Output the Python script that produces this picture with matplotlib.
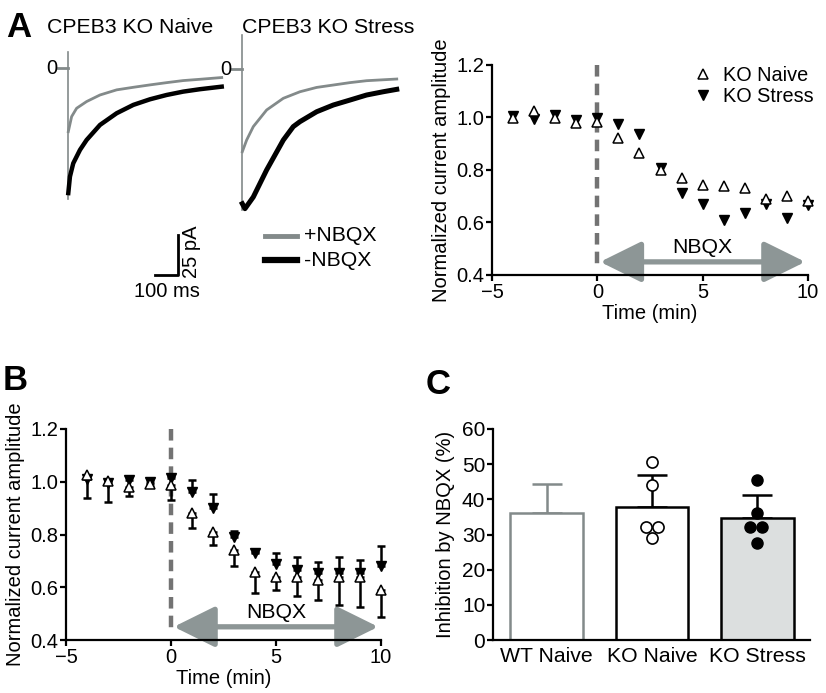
import matplotlib
matplotlib.use('Agg')
import matplotlib.pyplot as plt
from matplotlib.lines import Line2D
from matplotlib.patches import FancyArrowPatch

plt.rcParams['font.family'] = ['Liberation Sans', 'DejaVu Sans']

W, H = 826, 693

# ---- panel A traces (ms, pA) ----
naive_t_gray = [0, 14.5, 36.2, 79.7, 137.9, 210.3, 282.6, 355, 427.3, 499.6, 572, 667]
naive_gray = [-39.6, -30.2, -25.0, -20.8, -16.7, -13.5, -11.9, -10.4, -9.0, -7.7, -6.9, -5.8]
naive_t_black = [0, 7.2, 21.5, 50.9, 79.7, 137.9, 210.3, 282.6, 355, 427.3, 499.6, 572, 667]
naive_black = [-78, -67.7, -59.4, -51, -44.8, -35.4, -28.1, -22.9, -19.4, -16.7, -14.6, -13.1, -11.5]
naive_artifact = [10.4, -81.9]

stress_t_gray = [0, 18.9, 47.8, 105.8, 178.3, 250.7, 323.2, 395.6, 468, 540.3, 671.5]
stress_gray = [-51.7, -44.4, -36, -25.6, -18.3, -14.2, -11.5, -10, -8.5, -7.3, -6.25]
stress_t_black = [0, 11.6, 47.8, 105.8, 178.3, 221.6, 250.7, 323.3, 395.6, 468, 540.3, 612.7, 671.5]
stress_black = [-84.2, -87.3, -80, -63.1, -44.4, -36, -32.9, -26.7, -22.5, -19.4, -16.25, -14.2, -12.7]
stress_artifact = [21, -88]

# ---- panel A time course (means only) ----
time_min = [-4, -3, -2, -1, 0, 1, 2, 3, 4, 5, 6, 7, 8, 9, 10]
a_naive = [0.997, 1.025, 0.997, 0.978, 0.984, 0.921, 0.863, 0.80, 0.771, 0.743, 0.739, 0.733, 0.688, 0.70, 0.683]
a_stress = [1.006, 0.995, 1.01, 0.99, 0.997, 0.975, 0.937, 0.806, 0.714, 0.67, 0.61, 0.635, 0.669, 0.616, 0.667]

# ---- panel B time course (mean, one-sided SEM) ----
b_naive = [1.025, 1.004, 0.981, 0.991, 0.988, 0.88, 0.81, 0.741, 0.657, 0.64, 0.638, 0.628, 0.64, 0.638, 0.59]
b_naive_sem = [0.088, 0.08, 0.034, 0.01, 0.058, 0.057, 0.05, 0.061, 0.079, 0.05, 0.071, 0.077, 0.107, 0.114, 0.104]
b_stress = [1.01, 0.995, 1.007, 1.0, 1.013, 0.96, 0.90, 0.792, 0.731, 0.69, 0.665, 0.655, 0.654, 0.654, 0.68]
b_stress_sem = [0.01, 0.01, 0.01, 0.01, 0.01, 0.047, 0.054, 0.021, 0.004, 0.041, 0.049, 0.042, 0.06, 0.049, 0.076]

# ---- panel C ----
groups = ['WT Naive', 'KO Naive', 'KO Stress']
c_mean = [36.0, 37.7, 34.7]
c_sem = [8.5, 9.3, 6.6]
ko_naive_pts = [50.5, 44.0, 32.0, 32.0, 29.0]
ko_naive_jit = [0.0, 0.0, -0.055, 0.055, 0.0]
ko_stress_pts = [45.4, 36.0, 32.0, 32.0, 27.5]
ko_stress_jit = [0.0, 0.0, -0.065, 0.045, 0.0]

GRAY = '#838a8a'
DASH = '#737373'
ARROW = '#8d9696'
FS = 14.5     # axis ticks / labels
FS_TXT = 15.3  # titles, legends, annotations

fig = plt.figure(figsize=(W / 100, H / 100), dpi=100)


def px_axes(l, t, r, b):
    return fig.add_axes([l / W, 1 - b / H, (r - l) / W, (b - t) / H])


def fig_text(x, y, s, **kw):
    fig.text(x / W, 1 - y / H, s, **kw)


def style_axes(ax):
    for s in ['top', 'right']:
        ax.spines[s].set_visible(False)
    for s in ['left', 'bottom']:
        ax.spines[s].set_linewidth(1.6)
    ax.tick_params(width=1.6, length=4, pad=1.5, labelsize=FS, direction='out')


def time_course(ax):
    style_axes(ax)
    ax.set_xlim(-5, 10)
    ax.set_ylim(0.4, 1.2)
    ax.set_xticks([-5, 0, 5, 10])
    ax.set_yticks([0.4, 0.6, 0.8, 1.0, 1.2])
    ax.set_yticklabels(['0.4', '0.6', '0.8', '1.0', '1.2'])
    ax.tick_params(axis='x', pad=2)
    ax.set_xlabel('Time (min)', fontsize=FS, labelpad=1)
    ax.set_ylabel('Normalized current amplitude', fontsize=FS, labelpad=4)
    ax.plot([0, 0], [1.2, 0.44], ls=(0, (2.6, 1.6)), color=DASH, lw=3.2, zorder=1, clip_on=False)
    arr = FancyArrowPatch((0, 0.45), (10, 0.45), arrowstyle='<|-|>,head_length=0.85,head_width=0.42',
                          mutation_scale=30, lw=3.8, color=ARROW, zorder=2, clip_on=False)
    ax.add_patch(arr)
    ax.text(5, 0.505, 'NBQX', ha='center', va='center', fontsize=FS_TXT)


# ---------- A: traces ----------
def trace_axes(rect, xlim, ylim):
    ax = px_axes(*rect)
    ax.set_xlim(*xlim)
    ax.set_ylim(*ylim)
    ax.axis('off')
    return ax


ta = trace_axes((40, 30, 230, 300), (-123, 703), (-144.8, 23.9))
ta.plot([0, 0], naive_artifact, color=GRAY, lw=1.2)
ta.plot([-43, 0], [0, 0], color=GRAY, lw=2)
ta.plot(naive_t_black, naive_black, color='black', lw=3.2)
ta.plot(naive_t_gray, naive_gray, color=GRAY, lw=2)
ta.text(-48, 0, '0', ha='right', va='center', fontsize=FS)
# scale bar: 100 ms / 25 pA
ta.plot([374.8, 474.8, 474.8], [-129, -129, -104], color='black', lw=2, clip_on=False)
ta.text(536, -114.5, '25 pA', rotation=90, ha='center', va='center', fontsize=FS)
ta.text(431, -139.6, '100 ms', ha='center', va='center', fontsize=FS, clip_on=False)

tb = trace_axes((232, 30, 420, 300), (-44.8, 772.6), (-144.4, 24.4))
tb.plot([0, 0], stress_artifact, color=GRAY, lw=1.2)
tb.plot([-43, 0], [0, 0], color=GRAY, lw=2, clip_on=False)
tb.plot(stress_t_black, stress_black, color='black', lw=3.6)
tb.plot(stress_t_gray, stress_gray, color=GRAY, lw=2)
tb.text(-48, 0, '0', ha='right', va='center', fontsize=FS)

fig.add_artist(Line2D([265 / W, 297 / W], [1 - 236 / H] * 2, color=GRAY, lw=3.5))
fig.add_artist(Line2D([265 / W, 297 / W], [1 - 260 / H] * 2, color='black', lw=4.5))
fig_text(304, 236, '+NBQX', va='center', fontsize=FS_TXT)
fig_text(304, 260, '-NBQX', va='center', fontsize=FS_TXT)

fig_text(6, 37, 'A', fontsize=25, fontweight='bold', va='baseline')
fig_text(47, 33, 'CPEB3 KO Naive', fontsize=FS_TXT, va='baseline')
fig_text(242, 33, 'CPEB3 KO Stress', fontsize=FS_TXT, va='baseline')

# ---------- A: time course ----------
axA = px_axes(492, 65, 808, 275)
time_course(axA)
axA.plot(time_min, a_stress, 'v', color='black', ms=7.5, zorder=3, clip_on=False, label='KO Stress')
axA.plot(time_min, a_naive, '^', mfc='white', mec='black', mew=1.1, ms=7.5, zorder=4,
         clip_on=False, label='KO Naive')
h, l = axA.get_legend_handles_labels()
axA.legend(h[::-1], l[::-1], loc='upper left', bbox_to_anchor=(0.63, 0.995), frameon=False,
           fontsize=14.3, handlelength=1.2, handletextpad=0.4, labelspacing=0.12,
           borderpad=0, borderaxespad=0)

# ---------- B ----------
axB = px_axes(66, 429, 381, 640)
time_course(axB)
axB.errorbar(time_min, b_stress, yerr=[[0] * len(b_stress), b_stress_sem], fmt='none',
             ecolor='black', elinewidth=1.8, capsize=3, capthick=1.8, zorder=2.5, clip_on=False)
axB.errorbar(time_min, b_naive, yerr=[b_naive_sem, [0] * len(b_naive)], fmt='none',
             ecolor='black', elinewidth=1.8, capsize=3, capthick=1.8, zorder=2.5, clip_on=False)
axB.plot(time_min, b_stress, 'v', color='black', ms=7.5, zorder=3, clip_on=False)
axB.plot(time_min, b_naive, '^', mfc='white', mec='black', mew=1.1, ms=7.5, zorder=4, clip_on=False)
fig_text(3, 390, 'B', fontsize=25, fontweight='bold', va='baseline')

# ---------- C ----------
axC = px_axes(493, 429, 810, 640)
style_axes(axC)
x = list(range(len(groups)))
fills = ['white', 'white', '#dcdfdf']
edges = [GRAY, 'black', 'black']
axC.bar(x, c_mean, width=0.69, color=fills, edgecolor=edges, linewidth=1.8, zorder=2)
for i in x:
    axC.errorbar(i, c_mean[i], yerr=[[0], [c_sem[i]]], fmt='none', ecolor=edges[i],
                 elinewidth=1.8, capsize=11, capthick=1.8, zorder=1.5)
axC.plot([1 + j for j in ko_naive_jit], ko_naive_pts, 'o', mfc='white', mec='black', mew=1.2,
         ms=8, zorder=4)
axC.plot([2 + j for j in ko_stress_jit], ko_stress_pts, 'o', color='black', ms=8, zorder=4)
axC.set_xlim(-0.51, 2.5)
axC.set_ylim(0, 60)
axC.set_yticks(range(0, 61, 10))
axC.set_xticks(x)
axC.set_xticklabels(groups)
axC.tick_params(axis='x', length=0, pad=5, labelsize=FS_TXT)
axC.tick_params(axis='y', labelsize=15)
axC.set_ylabel('Inhibition by NBQX (%)', fontsize=FS, labelpad=5)
fig_text(426, 394, 'C', fontsize=25, fontweight='bold', va='baseline')

plt.savefig('out.png', dpi=100)
plt.close()
